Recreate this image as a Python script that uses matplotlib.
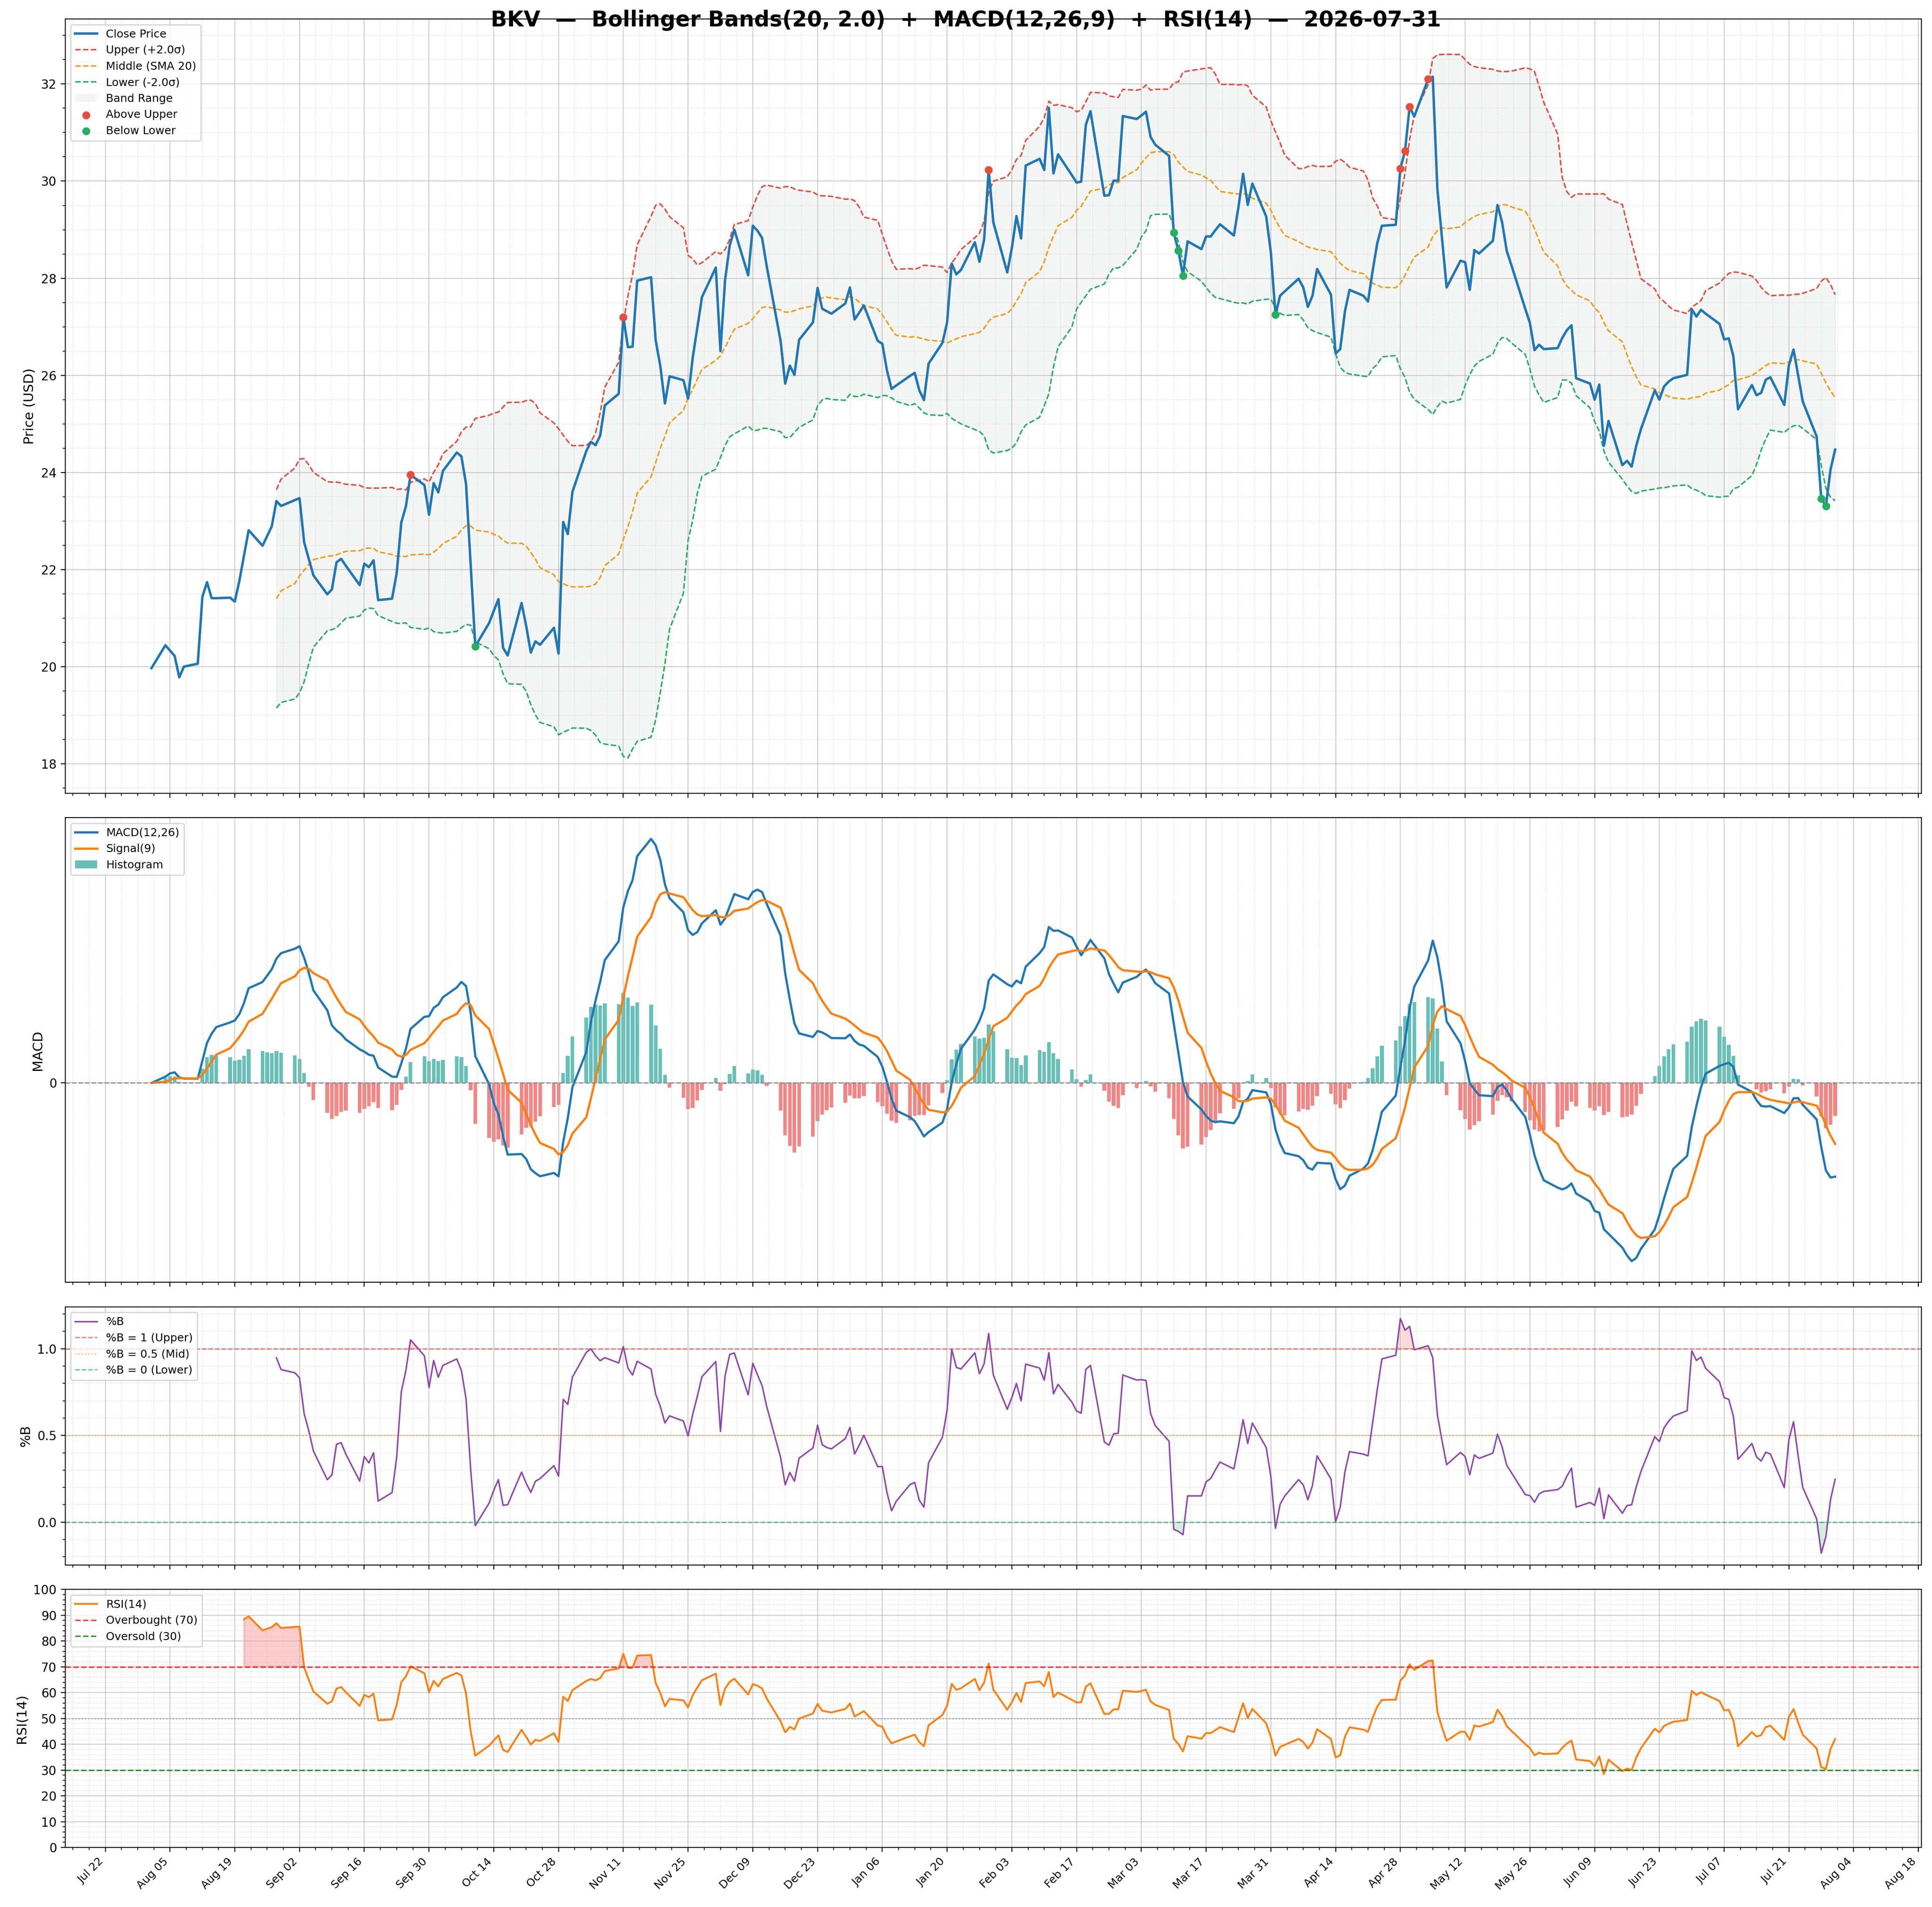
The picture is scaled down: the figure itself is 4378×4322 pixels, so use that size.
import numpy as np
import pandas as pd
import matplotlib
matplotlib.use("Agg")
import matplotlib.pyplot as plt
import matplotlib.dates as mdates
from matplotlib.ticker import AutoMinorLocator, MultipleLocator, FixedLocator, NullLocator
from matplotlib.patches import Patch

plt.rcParams['font.family'] = ['DejaVu Sans']

# ---------------- data ----------------
ticker_symbol = "BKV"
start_date = "2025-08-01"
end_date = "2026-07-31"

close_aug = [19.97, 20.44, 20.33, 20.22, 19.78, 20.00, 20.06, 21.44, 21.74, 21.41, 21.41,
             21.42, 21.34, 21.77, 22.29, 22.81, 22.49, 22.69, 22.89, 23.41, 23.31]
close_sep = [23.43, 23.47, 22.56, 22.22, 21.88, 21.49, 21.59, 22.15, 22.22, 22.08, 21.68,
             22.12, 22.05, 22.19, 21.37, 21.40, 21.92, 22.97, 23.30, 23.95, 23.74, 23.13]
close_oct = [23.78, 23.59, 24.03, 24.41, 24.33, 23.76, 22.10, 20.42, 20.90, 21.15, 21.39,
             20.39, 20.23, 21.31, 20.84, 20.29, 20.52, 20.45, 20.80, 20.27, 22.98, 22.73, 23.60]
close_nov = [24.44, 24.63, 24.56, 24.76, 25.38, 25.62, 27.20, 26.58, 26.59, 27.95, 28.02,
             26.72, 26.19, 25.42, 25.98, 25.90, 25.52, 26.36, 26.98, 27.61]
close_dec = [28.22, 26.50, 27.96, 28.67, 29.00, 28.06, 29.08, 28.98, 28.83, 28.25, 26.71,
             25.83, 26.20, 26.01, 26.73, 27.09, 27.80, 27.37, 27.32, 27.27, 27.48, 27.81, 27.15]
close_jan = [27.29, 27.44, 26.71, 26.65, 26.10, 25.72, 25.79, 25.99, 26.05, 25.69, 25.49,
             26.24, 26.67, 27.09, 28.30, 28.08, 28.17, 28.74, 28.34, 28.79, 30.23, 29.15]
close_feb = [28.12, 28.62, 29.28, 28.82, 30.32, 30.46, 30.23, 31.51, 30.16, 30.55, 30.12,
             29.97, 29.99, 31.16, 31.44, 29.70, 29.71, 30.01, 30.01, 31.34]
close_mar = [31.28, 31.35, 31.43, 30.91, 30.75, 30.52, 28.94, 28.57, 28.05, 28.76, 28.60,
             28.86, 28.86, 28.99, 29.11, 28.88, 29.47, 30.15, 29.51, 29.95, 29.27, 28.53]
close_apr = [27.25, 27.64, 27.73, 27.99, 27.81, 27.41, 27.64, 28.19, 27.66, 26.45, 26.54,
             27.31, 27.76, 27.64, 27.52, 28.15, 28.72, 29.08, 29.10, 30.26, 30.62, 31.53]
close_may = [31.33, 32.10, 32.15, 29.84, 28.83, 27.81, 28.36, 28.33, 27.76, 28.58, 28.51,
             28.77, 29.51, 29.15, 28.56, 28.27, 27.37, 27.08, 26.52, 26.63, 26.54]
close_jun = [26.56, 26.77, 26.93, 27.03, 25.94, 25.83, 25.50, 25.81, 24.55, 25.06, 24.15,
             24.24, 24.12, 24.55, 24.89, 25.69, 25.50, 25.77, 25.87, 25.94, 26.01, 27.36]
close_jul = [27.21, 27.35, 27.27, 27.06, 26.74, 26.76, 26.39, 25.30, 25.80, 25.59, 25.64,
             25.91, 25.96, 25.39, 26.21, 26.53, 26.00, 25.46, 24.74, 23.46, 23.31, 24.06, 24.47]

tick_dates = pd.date_range("2025-07-22", "2026-08-18", freq="14D")

bb_window, bb_k = 20, 2.0
macd_fast, macd_slow, macd_sig = 12, 26, 9
rsi_period = 14

# ---------------- indicators ----------------
close_vals = (close_aug + close_sep + close_oct + close_nov + close_dec + close_jan +
              close_feb + close_mar + close_apr + close_may + close_jun + close_jul)
dates = pd.bdate_range(start_date, end_date)
close = pd.Series(close_vals, index=dates)

mid = close.rolling(bb_window).mean()
sd = close.rolling(bb_window).std()
upper = mid + bb_k * sd
lower = mid - bb_k * sd
pctb = (close - lower) / (upper - lower)

ema_f = close.ewm(span=macd_fast, adjust=False).mean()
ema_s = close.ewm(span=macd_slow, adjust=False).mean()
macd = ema_f - ema_s
signal = macd.ewm(span=macd_sig, adjust=False).mean()
hist = macd - signal

delta = close.diff()
gain = delta.clip(lower=0)
loss = -delta.clip(upper=0)
avg_gain = gain.ewm(alpha=1 / rsi_period, adjust=False, min_periods=rsi_period).mean()
avg_loss = loss.ewm(alpha=1 / rsi_period, adjust=False, min_periods=rsi_period).mean()
rsi = 100 - 100 / (1 + avg_gain / avg_loss)

above = close > upper
below = close < lower

# ---------------- figure ----------------
fig = plt.figure(figsize=(4378 / 200, 4322 / 200), dpi=200)
gs = fig.add_gridspec(4, 1, height_ratios=[3, 1.8, 1, 1], hspace=0.056,
                      left=0.0338, right=0.9945, top=0.990, bottom=0.0312)
ax1 = fig.add_subplot(gs[0])
ax2 = fig.add_subplot(gs[1], sharex=ax1)
ax3 = fig.add_subplot(gs[2], sharex=ax1)
ax4 = fig.add_subplot(gs[3], sharex=ax1)

C_PRICE = '#1f77b4'
C_UP = '#e74c3c'
C_MID = '#f39c12'
C_LOW = '#27ae60'
LEG_FS = 9

# Price + Bollinger
ax1.fill_between(dates, lower, upper, color='#95a5a6', alpha=0.1, label='Band Range')
l_close, = ax1.plot(dates, close, color=C_PRICE, lw=2.0, label='Close Price', zorder=3)
l_up, = ax1.plot(dates, upper, color=C_UP, ls='--', lw=1.2, label='Upper (+2.0σ)')
l_mid, = ax1.plot(dates, mid, color=C_MID, ls='--', lw=1.2, label='Middle (SMA 20)')
l_low, = ax1.plot(dates, lower, color=C_LOW, ls='--', lw=1.2, label='Lower (-2.0σ)')
sc_up = ax1.scatter(dates[above.values], close[above], color=C_UP, s=30, zorder=5, label='Above Upper')
sc_lo = ax1.scatter(dates[below.values], close[below], color=C_LOW, s=30, zorder=5, label='Below Lower')
band_patch = Patch(facecolor='#95a5a6', alpha=0.1, label='Band Range')
ax1.legend(handles=[l_close, l_up, l_mid, l_low, band_patch, sc_up, sc_lo],
           loc='upper left', fontsize=LEG_FS)
ax1.set_ylabel('Price (USD)', fontsize=11)

# MACD
ax2.plot(dates, macd, color='#1f77b4', lw=1.8, label='MACD(12,26)')
ax2.plot(dates, signal, color='#ff7f0e', lw=1.8, label='Signal(9)')
bar_colors = ['#26a69a' if v >= 0 else '#ef5350' for v in hist.values]
ax2.bar(dates, hist.values, width=0.8, color=bar_colors, alpha=0.7, label='Histogram')
ax2.axhline(0, color='gray', ls='--', lw=1, alpha=0.8)
ax2.legend(loc='upper left', fontsize=LEG_FS)
ax2.set_ylabel('MACD', fontsize=11)

# %B
ax3.plot(dates, pctb, color='#8e44ad', lw=1.2, label='%B')
ax3.axhline(1.0, color=C_UP, ls='--', lw=1, alpha=0.7, label='%B = 1 (Upper)')
ax3.axhline(0.5, color=C_MID, ls=':', lw=1, alpha=0.7, label='%B = 0.5 (Mid)')
ax3.axhline(0.0, color=C_LOW, ls='--', lw=1, alpha=0.7, label='%B = 0 (Lower)')
ax3.fill_between(dates, pctb, 1.0, where=(pctb > 1.0), interpolate=True, color=C_UP, alpha=0.2)
ax3.fill_between(dates, pctb, 0.0, where=(pctb < 0.0), interpolate=True, color=C_LOW, alpha=0.2)
ax3.legend(loc='upper left', fontsize=LEG_FS)
ax3.set_ylabel('%B', fontsize=11)

# RSI
ax4.plot(dates, rsi, color='#ff7f0e', lw=1.5, label='RSI(14)')
ax4.axhline(70, color='red', ls='--', lw=1.2, alpha=0.75, label='Overbought (70)')
ax4.axhline(30, color='green', ls='--', lw=1.2, alpha=0.8, label='Oversold (30)')
ax4.axhline(50, color='gray', ls=':', lw=1, alpha=0.6)
ax4.fill_between(dates, rsi, 70, where=(rsi >= 70), interpolate=True, color='red', alpha=0.2)
ax4.fill_between(dates, rsi, 30, where=(rsi <= 30), interpolate=True, color='green', alpha=0.2)
ax4.set_ylim(0, 100)
ax4.legend(loc='upper left', fontsize=LEG_FS)
ax4.set_ylabel('RSI(14)', fontsize=11)

for ax in (ax1, ax2, ax3, ax4):
    ax.minorticks_on()
    ax.grid(True, which='major', color='#b0b0b0', lw=0.8, alpha=0.6)
    ax.grid(True, which='minor', color='#b0b0b0', ls=':', lw=0.6, alpha=0.4)
    ax.tick_params(axis='y', labelsize=10)

ax2.yaxis.set_major_locator(FixedLocator([0]))
ax2.yaxis.set_minor_locator(NullLocator())
ax3.yaxis.set_major_locator(MultipleLocator(0.5))
ax3.yaxis.set_minor_locator(AutoMinorLocator(5))
ax4.yaxis.set_major_locator(MultipleLocator(10))
ax4.yaxis.set_minor_locator(AutoMinorLocator(5))

ax4.xaxis.set_major_locator(FixedLocator(mdates.date2num(tick_dates)))
ax4.xaxis.set_minor_locator(AutoMinorLocator(4))
ax4.xaxis.set_major_formatter(mdates.DateFormatter('%b %d'))
for ax in (ax1, ax2, ax3):
    plt.setp(ax.get_xticklabels(), visible=False)
plt.setp(ax4.get_xticklabels(), rotation=45, ha='right', fontsize=9)

fig.text(0.5, 0.9861,
         f"{ticker_symbol}  —  Bollinger Bands(20, 2.0)  +  MACD(12,26,9)  +  RSI(14)  —  2026-07-31",
         ha='center', va='baseline', fontsize=17.5, fontweight='bold')

fig.savefig('out.png', dpi=200)
